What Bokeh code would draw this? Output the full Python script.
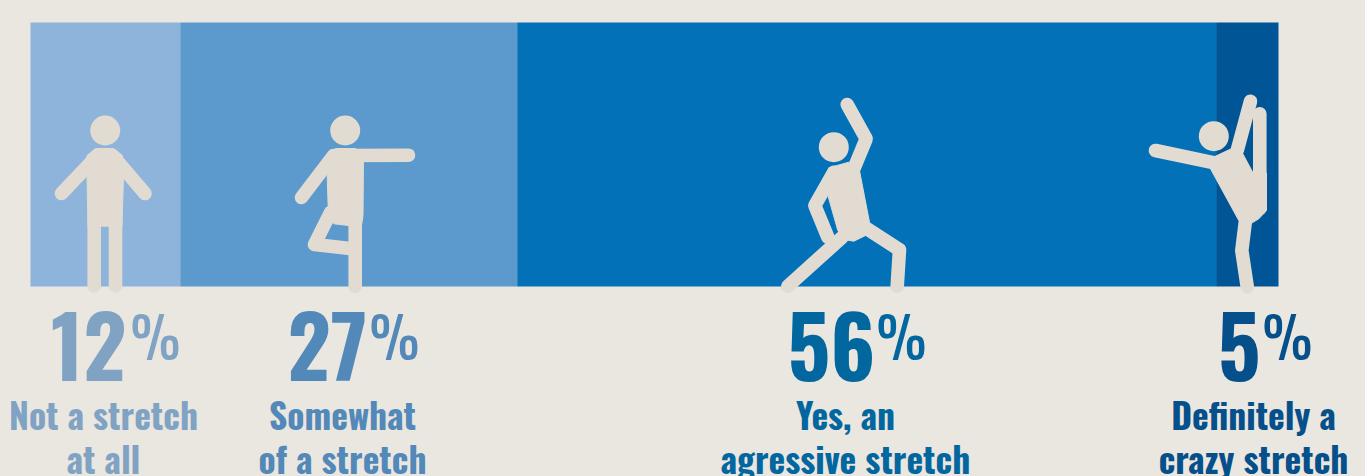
from bokeh.plotting import figure
from bokeh.models import Range1d
from bokeh.core.properties import value
from bokeh.embed import file_html
from bokeh.resources import INLINE

# ---- data ----
categories = ["Not a stretch at all", "Somewhat of a stretch", "Yes, an agressive stretch", "Definitely a crazy stretch"]
shares = [12, 27, 56, 5]
share_labels = ["12", "27", "56", "5"]
label_line1 = ["Not a stretch", "Somewhat", "Yes, an", "Definitely a"]
label_line2 = ["at all", "of a stretch", "agressive stretch", "crazy stretch"]

# ---- style ----
PAGE = "#eae6e0"
INK = "#e1dbd2"
bar_colors = ["#8fb4db", "#5c99cd", "#0271b8", "#005596"]
text_colors = ["#80a3c4", "#5389b8", "#03679f", "#054f8a"]
FONT = value("Oswald, Roboto")
BAR_LEFT, BAR_RIGHT, BAR_TOP, BAR_BOTTOM = 30, 1278, 22, 286
W, H = 1365, 476
unit = (BAR_RIGHT - BAR_LEFT) / 100

# layout of labels, in page pixels
digit_right = [126, 367, 875, 1260]
pct_left = [130, 369, 876, 1262]
label_center = [103, 342, 845, 1253]
DIGIT_SIZE, PCT_SIZE, LABEL_SIZE = 84, 56, 35.5
DIGIT_BASE, PCT_BASE, LINE1_BASE, LINE2_BASE = 346, 334, 413, 457

# pictograms, in page pixels
heads = [(104.7, 130), (344.7, 130), (833.3, 146.7), (1213.3, 135.7)]
torsos = [
    [(86.5,155),(95,148),(113,148),(122,155),(123,175),(121.5,225.7),(87.5,225.7),(86.5,175)],
    [(327,155),(335,148),(355,148),(363,155),(362.5,215),(361,225),(348,225),(333.3,223.3),(327.7,206.7),(326.7,176.7)],
    [(828.3,167.3),(848.3,161.7),(859.3,171.7),(869,221.7),(865,235),(853.3,240.7),(845,239.3),(837.3,230),(827.7,196)],
    [(1210,168.3),(1214.3,156),(1230.7,148.3),(1242.3,153.3),(1252.7,172.7),(1266,172.7),(1266,210),(1258.3,218.3),(1250,223.3),(1238.3,220)],
]
limbs = [
    # arms
    [(97,155),(61,193)], [(112,155),(144.5,193)],
    [(350,155),(408,154.7)], [(333,155),(301,197)],
    [(833.3,171.7),(814.3,205),(827.3,236.7)], [(853.3,168.3),(865.7,138.3),(846.7,104)],
    [(1236.7,150),(1250,100.7)], [(1155,150),(1215,162.7)],
    # legs
    [(93.7,215),(93.7,285.5)], [(115,215),(115,285.5)],
    [(354.7,210),(354.7,286)], [(330,212),(314,244),(354,248.5)],
    [(841.7,236.7),(787.3,285.7)], [(865,227.3),(899,249.3),(896.7,285.7)],
    [(1259.3,113.3),(1259.3,208)], [(1245,220),(1241.3,250),(1246.7,286)],
]

p = figure(width=W, height=H, output_backend="svg", toolbar_location=None,
           x_range=Range1d(-BAR_LEFT / unit, (W - BAR_LEFT) / unit),
           y_range=Range1d(H, 0), min_border=0,
           background_fill_color=PAGE, border_fill_color=PAGE,
           outline_line_color=None, x_axis_location=None, y_axis_location=None)
p.grid.visible = False
p.extra_x_ranges = {"px": Range1d(0, W)}

lefts, rights, run = [], [], 0
for s in shares:
    lefts.append(run)
    run += s
    rights.append(run)
p.hbar(y=(BAR_TOP + BAR_BOTTOM) / 2, height=BAR_BOTTOM - BAR_TOP, left=lefts, right=rights,
       fill_color=bar_colors, line_color=None)

p.multi_line([[a for a, b in l] for l in limbs], [[b for a, b in l] for l in limbs],
             x_range_name="px", line_color=INK, line_width=13.6,
             line_cap="round", line_join="round")
p.patches([[a for a, b in t] for t in torsos], [[b for a, b in t] for t in torsos],
          x_range_name="px", fill_color=INK, line_color=INK, line_width=1)
p.circle([h[0] for h in heads], [h[1] for h in heads], radius=15,
         x_range_name="px", fill_color=INK, line_color=None)

p.text(digit_right, [DIGIT_BASE] * 4, text=share_labels, x_range_name="px",
       text_font=FONT, text_font_style="bold", text_font_size=f"{DIGIT_SIZE}px",
       text_color=text_colors, text_align="right", text_baseline="alphabetic")
p.text(pct_left, [PCT_BASE] * 4, text=["%"] * 4, x_range_name="px",
       text_font=FONT, text_font_size=f"{PCT_SIZE}px",
       text_color=text_colors, text_align="left", text_baseline="alphabetic")
for lines, base in ((label_line1, LINE1_BASE), (label_line2, LINE2_BASE)):
    p.text(label_center, [base] * 4, text=lines, x_range_name="px",
           text_font=FONT, text_font_style="bold", text_font_size=f"{LABEL_SIZE}px",
           text_color=text_colors, text_align="center", text_baseline="alphabetic")

html = file_html(p, INLINE)
html = html.replace("<head>", "<head><style>html,body{margin:0;padding:0;overflow:hidden;font-stretch:condensed;background:%s}</style>" % PAGE, 1)
open("out.html", "w").write(html)
